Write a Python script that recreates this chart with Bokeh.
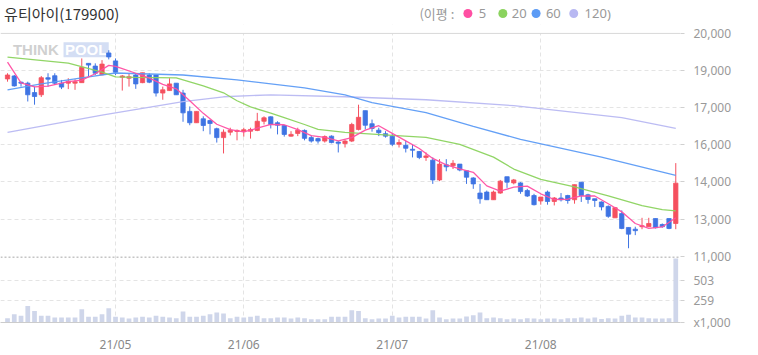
from bokeh.plotting import figure
from bokeh.layouts import column
from bokeh.models import Range1d, FixedTicker, ColumnDataSource, Span, BoxAnnotation
from bokeh.core.properties import value
from bokeh.embed import file_html
from bokeh.resources import INLINE

# ---------------- data ----------------
title_text = "유티아이(179900)"
legend_prefix = "(이평 :"
ma_labels = ["5", "20", "60", "120"]
month_idx = [16, 35, 57, 79]
month_labels = ["21/05", "21/06", "21/07", "21/08"]
price_ticks = [11000, 12500, 14000, 15500, 17000, 18500, 20000]
price_tick_labels = ["11,000", "13,000", "14,000", "16,000", "17,000", "19,000", "20,000"]
vol_ticks = [0, 259, 503]
vol_tick_labels = ["x1,000", "259", "503"]
vol_max = 777

opens = [18160, 18280, 18030, 17990, 17610, 17520, 18210, 18290, 17990, 17990,
         17990, 18010, 18790, 18680, 18330, 19210, 18890, 18230, 18190, 18320,
         18010, 18320, 18320, 17590, 17690, 17990, 17590, 16850, 16390, 16550,
         16480, 16150, 15790, 16010, 16040, 16030, 16050, 16080, 16450, 16630,
         16390, 16280, 15850, 15960, 16080, 15790, 15750, 15650, 15850, 15610,
         15550, 15650, 16120, 16880, 16350, 16090, 15950, 15850, 15520, 15480,
         15320, 15230, 14990, 14880, 14080, 14690, 14650, 14720, 14450, 14160,
         13550, 13590, 13280, 13550, 14210, 13960, 13960, 13650, 13450, 13230,
         13590, 13210, 13350, 13450, 13280, 13990, 13480, 13320, 13190, 13010,
         12550, 12720, 12160, 12090, 12190, 12190, 12520, 12280, 12520, 12320]
highs = [18390, 18320, 18050, 18050, 17850, 18280, 18390, 18390, 18120, 18190,
         18150, 18990, 18790, 18790, 18920, 19320, 18990, 18320, 18390, 18390,
         18410, 18390, 18320, 17850, 18190, 17990, 17720, 17050, 16850, 16650,
         16520, 16190, 16120, 16190, 16120, 16190, 16190, 16790, 16650, 16650,
         16450, 16280, 16050, 16190, 16120, 15880, 15790, 15880, 15880, 15650,
         15720, 16390, 17120, 16880, 16520, 16190, 16050, 15950, 15720, 15650,
         15520, 15250, 15190, 14990, 14920, 14920, 14880, 14720, 14480, 14190,
         13920, 13650, 13650, 14080, 14210, 14120, 13990, 13720, 13520, 13390,
         13650, 13390, 13550, 13480, 13890, 13990, 13520, 13320, 13210, 13050,
         12990, 12850, 12160, 12190, 12550, 12550, 12520, 12320, 12520, 14760]
lows = [18050, 17850, 17850, 17250, 17120, 17430, 17850, 17920, 17750, 17750,
        17720, 18010, 18250, 18320, 18310, 18950, 18320, 17690, 17850, 17760,
        17990, 17990, 17450, 17320, 17690, 17520, 16430, 16290, 16390, 16050,
        15920, 15590, 15150, 15880, 15680, 15830, 15750, 16050, 16320, 16160,
        15920, 15830, 15830, 15850, 15680, 15590, 15550, 15590, 15560, 15190,
        15390, 15610, 16080, 16120, 16030, 15850, 15790, 15450, 15390, 15190,
        14990, 14920, 14850, 13920, 14030, 14430, 14520, 14430, 13920, 13720,
        13120, 13280, 13280, 13520, 13760, 13900, 13520, 13390, 13050, 13080,
        13080, 13050, 13210, 13120, 13120, 13190, 13120, 12990, 12850, 12550,
        12550, 12090, 11320, 11850, 12090, 12190, 12120, 12150, 12090, 12090]
closes = [18320, 17880, 17990, 17520, 17450, 18210, 18150, 17990, 17830, 18070,
          18050, 18630, 18720, 18390, 18760, 19050, 18430, 18280, 18250, 17960,
          18410, 18030, 17590, 17720, 17960, 17520, 16790, 16390, 16850, 16280,
          16360, 15790, 16010, 16090, 16080, 16110, 16120, 16450, 16590, 16320,
          16290, 15920, 15920, 16090, 15760, 15650, 15650, 15830, 15590, 15560,
          15650, 16320, 16610, 16290, 16160, 15990, 15850, 15520, 15590, 15360,
          15280, 14990, 15050, 14080, 14720, 14610, 14750, 14480, 14190, 13920,
          13320, 13280, 13590, 14030, 13990, 14080, 13610, 13430, 13080, 13390,
          13210, 13350, 13280, 13250, 13890, 13450, 13290, 13250, 12990, 12610,
          12960, 12120, 11890, 12030, 12230, 12320, 12150, 12190, 12120, 13950]
volumes = [51, 99, 79, 197, 138, 79, 79, 59, 59, 59,
           59, 158, 67, 67, 99, 170, 67, 59, 47, 59,
           67, 59, 79, 67, 59, 51, 130, 67, 67, 79,
           99, 118, 107, 51, 67, 59, 67, 79, 51, 51,
           59, 59, 47, 59, 51, 39, 39, 39, 67, 67,
           67, 146, 138, 51, 39, 47, 47, 79, 59, 67,
           67, 67, 47, 146, 59, 39, 47, 47, 71, 87,
           118, 51, 59, 51, 39, 47, 39, 51, 47, 39,
           47, 47, 39, 51, 51, 59, 47, 59, 43, 51,
           47, 79, 91, 59, 59, 51, 47, 47, 51, 761]

ma5_idx = [0, 2, 4, 6, 9, 11, 13, 15, 16, 17, 19, 21, 23, 25, 27, 29, 31, 33, 35, 37,
           39, 41, 43, 45, 47, 49, 51, 53, 55, 57, 59, 61, 63, 65, 67, 69, 71, 73, 75,
           77, 79, 81, 83, 85, 87, 89, 91, 93, 95, 97, 99]
ma5_val = [18840, 18000, 17840, 17870, 18050, 18110, 18370, 18710, 18670, 18580,
           18390, 18190, 17940, 17760, 17280, 16770, 16330, 16110, 16020, 16170,
           16320, 16310, 16110, 15870, 15800, 15660, 15790, 16090, 16270, 15960,
           15660, 15350, 14950, 14690, 14530, 14390, 13840, 13630, 13790,
           13830, 13520, 13290, 13300, 13440, 13430, 13120, 12790, 12320, 12120,
           12180, 12550]
ma20_idx = [0, 9, 14, 16, 19, 25, 27, 29, 32, 34, 36, 39, 41, 44, 46, 50, 57, 62,
            67, 72, 75, 79, 84, 89, 94, 97, 99]
ma20_val = [19040, 18800, 18440, 18240, 18220, 18200, 18040, 17880, 17600, 17280,
            17030, 16780, 16600, 16320, 16120, 16000, 15880, 15800, 15520, 15000,
            14520, 14100, 13800, 13440, 13040, 12880, 12830]
ma60_idx = [0, 5, 11, 16, 26, 34, 44, 50, 54, 62, 69, 76, 88, 99]
ma60_val = [17720, 17960, 18200, 18400, 18320, 18120, 17800, 17520, 17200, 16800,
            16240, 15720, 15000, 14260]
ma120_idx = [0, 14, 26, 32, 39, 50, 62, 75, 91, 99]
ma120_val = [16000, 16700, 17240, 17440, 17520, 17440, 17320, 17080, 16600, 16160]

# ---------------- style / layout ----------------
RED = "#f5505f"
BLUE = "#3f74e3"
MA_COLORS = ["#ff4fa3", "#8bd35e", "#5c9bf5", "#b8b8f2"]
VOL_COLOR = "#cfd6ea"
FONT = "Noto Sans"
KFONT = "Noto Sans CJK KR"
GRID_COLOR = "#e4e4e4"
W, H = 758, 355
PLOT_W = 680
HEADER_H = 24           # frame of main chart starts here
PX_TOP_PRICE = 33       # pixel row of the highest price tick
PX_BOTTOM_PRICE = 258   # pixel row of the lowest price tick
PX_VOL_TOP = 259        # pixel row of the volume panel top
PX_FRAME_BOTTOM = 325
BORDER_BOTTOM = H - PX_FRAME_BOTTOM

p_lo, p_hi = price_ticks[0], price_ticks[-1]
price_per_px = (p_hi - p_lo) / (PX_BOTTOM_PRICE - PX_TOP_PRICE)
price_range_top = p_hi + (PX_TOP_PRICE - HEADER_H) * price_per_px
price_range_bottom = p_lo - (PX_FRAME_BOTTOM - PX_BOTTOM_PRICE) * price_per_px
vol_range_top = vol_max * (PX_FRAME_BOTTOM - HEADER_H) / (PX_FRAME_BOTTOM - PX_VOL_TOP)


def vol_as_price(v):
    return round(price_range_bottom + v / vol_range_top * (price_range_top - price_range_bottom))


xr = Range1d(-1.04, 99.7)

# ---------------- header ----------------
hy = HEADER_H - 13
hdr = figure(width=W, height=HEADER_H, x_range=Range1d(0, W), y_range=Range1d(0, HEADER_H),
             x_axis_location=None, y_axis_location=None, output_backend="svg",
             toolbar_location=None, min_border=0, outline_line_color=None)
hdr.grid.visible = False
hdr.text(x=[4], y=[hy], text=[title_text], text_font=value(KFONT), text_font_size="15px",
         text_color="#333333", text_baseline="middle", text_align="left")
hdr.text(x=[467], y=[hy], text=[legend_prefix], text_font=value(KFONT), text_font_size="13px",
         text_color="#999999", text_baseline="middle", text_align="left")
hdr.scatter(x=[521, 560, 597, 639], y=[hy] * 4, size=9, fill_color=MA_COLORS, line_color=None)
hdr.text(x=[533, 570, 608, 651], y=[hy] * 4, text=ma_labels, text_font=value(FONT),
         text_font_size="13px", text_color="#999999", text_baseline="middle", text_align="left")
hdr.text(x=[676], y=[hy], text=[")"], text_font=value(FONT), text_font_size="13px",
         text_color="#999999", text_baseline="middle", text_align="left")

# ---------------- main chart (price + volume) ----------------
p = figure(width=W, height=H - HEADER_H, x_range=xr,
           y_range=Range1d(price_range_bottom, price_range_top),
           y_axis_location="right", output_backend="svg", toolbar_location=None,
           min_border_left=0, min_border_right=W - PLOT_W, min_border_top=0,
           min_border_bottom=BORDER_BOTTOM, outline_line_color=None)
p.extra_y_ranges = {"vol": Range1d(0, vol_range_top)}

p.xgrid.ticker = FixedTicker(ticks=month_idx)
p.ygrid.ticker = FixedTicker(ticks=price_ticks[1:-1] + [vol_as_price(t) for t in vol_ticks[1:]])
for g in (p.xgrid, p.ygrid):
    g.grid_line_color = GRID_COLOR
    g.grid_line_dash = "4 3"

# blank strip above the top price line
p.add_layout(BoxAnnotation(bottom=p_hi, fill_color="white", fill_alpha=1.0, line_color=None,
                           level="underlay"))
p.add_layout(Span(location=p_hi, dimension="width", line_color="#d8d8d8", line_width=1))
p.add_layout(Span(location=vol_max, dimension="width", y_range_name="vol",
                  line_color="#a8a8a8", line_width=1, line_dash="2 2"))

# watermark
p.text(x=[0.8], y=[19330], text=["THINK"], text_font=value("Liberation Sans"), text_font_style="bold",
       text_font_size="15px", text_color="#c4c4c4", text_alpha=0.8, text_baseline="middle")
p.quad(left=[8.3], right=[15.0], bottom=[19040], top=[19640], fill_color="#c9d6f1",
       fill_alpha=0.8, line_color=None)
p.text(x=[8.5], y=[19330], text=["POOL"], text_font=value("Liberation Sans"), text_font_style="bold",
       text_font_size="15px", text_color="#ffffff", text_baseline="middle")

idx = list(range(len(closes)))
p.vbar(x=idx, top=volumes, width=0.7, fill_color=VOL_COLOR, line_color=None, y_range_name="vol")

colors = [RED if c >= o else BLUE for o, c in zip(opens, closes)]
src = ColumnDataSource(dict(
    idx=idx, open=opens, high=highs, low=lows, close=closes, color=colors,
    top=[max(o, c) for o, c in zip(opens, closes)],
    bottom=[min(o, c) for o, c in zip(opens, closes)],
))
p.segment(x0="idx", y0="low", x1="idx", y1="high", line_color="color", line_width=1, source=src)
p.vbar(x="idx", width=0.64, top="top", bottom="bottom", fill_color="color", line_color="color",
       line_width=0.8, source=src)

for (ix, vals, col) in ((ma120_idx, ma120_val, MA_COLORS[3]), (ma60_idx, ma60_val, MA_COLORS[2]),
                        (ma20_idx, ma20_val, MA_COLORS[1]), (ma5_idx, ma5_val, MA_COLORS[0])):
    p.line(ix, vals, line_color=col, line_width=1.3, line_alpha=0.95)

# axes
px = p.xaxis[0]
px.ticker = FixedTicker(ticks=month_idx)
px.major_label_overrides = dict(zip(month_idx, month_labels))
px.axis_line_color = "#cccccc"
px.major_tick_line_color = None
px.minor_tick_line_color = None
px.major_label_standoff = 7
px.major_label_text_font = FONT
px.major_label_text_font_size = "12px"
px.major_label_text_color = "#888888"

py = p.yaxis[0]
all_ticks = price_ticks + [vol_as_price(t) for t in vol_ticks]
all_labels = price_tick_labels + vol_tick_labels
py.ticker = FixedTicker(ticks=all_ticks)
py.major_label_overrides = dict(zip(all_ticks, all_labels))
py.axis_line_color = None
py.major_tick_line_color = "#d0d0d0"
py.major_tick_out = 4
py.major_tick_in = 0
py.minor_tick_line_color = None
py.major_label_standoff = 9
py.major_label_text_font = FONT
py.major_label_text_font_size = "12px"
py.major_label_text_color = "#999999"

layout = column(hdr, p, spacing=0)
open("out.html", "w").write(file_html(layout, INLINE))
